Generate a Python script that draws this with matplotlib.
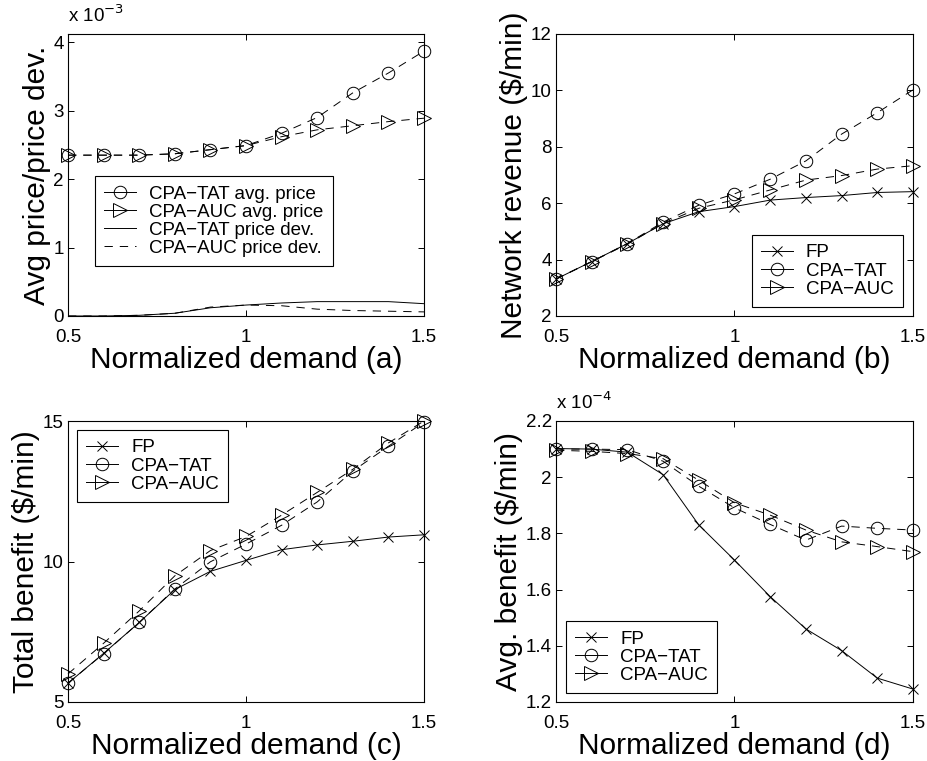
import matplotlib
matplotlib.use('Agg')
import matplotlib.pyplot as plt
from matplotlib.lines import Line2D
from matplotlib.ticker import FuncFormatter

plt.rcParams['font.family'] = ['Liberation Sans', 'DejaVu Sans']
plt.rcParams['lines.scale_dashes'] = False

# 横轴：归一化需求
demand = [0.5, 0.6, 0.7, 0.8, 0.9, 1.0, 1.1, 1.2, 1.3, 1.4, 1.5]

# (a) 平均价格 / 价格偏差
tat_price = [2.35e-3, 2.35e-3, 2.35e-3, 2.37e-3, 2.43e-3, 2.49e-3, 2.67e-3, 2.90e-3, 3.26e-3, 3.55e-3, 3.87e-3]
auc_price = [2.35e-3, 2.35e-3, 2.35e-3, 2.37e-3, 2.43e-3, 2.49e-3, 2.62e-3, 2.72e-3, 2.78e-3, 2.84e-3, 2.89e-3]
tat_dev = [0.0, 0.0, 0.01e-3, 0.04e-3, 0.12e-3, 0.16e-3, 0.19e-3, 0.21e-3, 0.21e-3, 0.21e-3, 0.18e-3]
auc_dev = [0.0, 0.0, 0.01e-3, 0.04e-3, 0.13e-3, 0.16e-3, 0.15e-3, 0.10e-3, 0.08e-3, 0.07e-3, 0.06e-3]

# (b) 网络收入
rev_fp = [3.31, 3.93, 4.57, 5.27, 5.70, 5.88, 6.11, 6.20, 6.27, 6.38, 6.41]
rev_tat = [3.31, 3.93, 4.57, 5.33, 5.93, 6.33, 6.85, 7.50, 8.45, 9.21, 10.02]
rev_auc = [3.31, 3.93, 4.55, 5.28, 5.82, 6.12, 6.47, 6.82, 6.98, 7.21, 7.33]

# (c) 总收益
tb_fp = [5.67, 6.73, 7.83, 9.00, 9.65, 10.04, 10.42, 10.59, 10.72, 10.87, 10.95]
tb_tat = [5.67, 6.72, 7.83, 9.02, 9.99, 10.62, 11.29, 12.12, 13.22, 14.10, 14.96]
tb_auc = [6.00, 7.09, 8.24, 9.49, 10.39, 10.89, 11.65, 12.46, 13.28, 14.22, 15.00]

# (d) 平均收益
ab_fp = [2.102e-4, 2.100e-4, 2.089e-4, 2.009e-4, 1.830e-4, 1.705e-4, 1.575e-4, 1.460e-4, 1.383e-4, 1.285e-4, 1.246e-4]
ab_tat = [2.100e-4, 2.100e-4, 2.098e-4, 2.057e-4, 1.968e-4, 1.891e-4, 1.832e-4, 1.776e-4, 1.826e-4, 1.818e-4, 1.812e-4]
ab_auc = [2.096e-4, 2.092e-4, 2.084e-4, 2.066e-4, 1.989e-4, 1.909e-4, 1.865e-4, 1.812e-4, 1.770e-4, 1.753e-4, 1.735e-4]

W, H = 928, 761
fs_tick = 13.5
fs_label = 21.5
lw = 0.7
dash = (0, (6, 5))
mk = dict(color='black', lw=lw, mfc='none', mec='black', mew=0.7, clip_on=False)
styles = {'FP': ('x', 7), 'TAT': ('o', 9), 'AUC': ('>', 10)}


def make_ax(left, top, right, bottom):
    ax = plt.gcf().add_axes([left / W, 1 - bottom / H, (right - left) / W, (bottom - top) / H])
    ax.tick_params(direction='in', top=True, right=True, length=4, width=0.7, labelsize=fs_tick)
    ax.tick_params(axis='x', pad=9)
    ax.tick_params(axis='y', pad=3)
    for s in ax.spines.values():
        s.set_linewidth(0.8)
    ax.set_xlim(0.5, 1.5)
    ax.set_xticks([0.5, 1, 1.5])
    ax.xaxis.set_major_formatter(FuncFormatter(lambda v, p: '%g' % v))
    return ax


def proxy(key=None, ls='-'):
    # 图例里带标记的线画成实线
    if key is None:
        return Line2D([], [], color='black', lw=lw, ls=ls)
    m, s = styles[key]
    return Line2D([], [], color='black', lw=lw, ls='-', marker=m, ms=s, mfc='none', mec='black', mew=0.7)


def legend(ax, handles, labels, **kw):
    lg = ax.legend(handles, labels, fontsize=fs_tick, fancybox=False, framealpha=1, edgecolor='black',
                   handlelength=1.7, handletextpad=0.7, labelspacing=0.05,
                   borderpad=0.5, borderaxespad=0, **kw)
    lg.get_frame().set_linewidth(0.8)
    return lg


fig = plt.figure(figsize=(W / 100, H / 100), dpi=100)
three = ['FP', 'CPA\u2212TAT', 'CPA\u2212AUC']

# (a)
ax = make_ax(68, 34, 424, 316)
ax.plot(demand, tat_price, marker='o', ms=9, ls=dash, **mk)
ax.plot(demand, auc_price, marker='>', ms=10, ls=dash, **mk)
ax.plot(demand, tat_dev, color='black', lw=lw, ls='-')
ax.plot(demand, auc_dev, color='black', lw=lw, ls=dash)
ax.set_ylim(0, 4.12e-3)
ax.set_yticks([0, 1e-3, 2e-3, 3e-3, 4e-3])
ax.yaxis.set_major_formatter(FuncFormatter(lambda v, p: '%g' % round(v / 1e-3, 6)))
ax.text(0, 1.03, 'x 10$^{-3}$', transform=ax.transAxes, fontsize=fs_tick, ha='left', va='bottom')
ax.set_ylabel('Avg price/price dev.', fontsize=fs_label, labelpad=2)
ax.set_xlabel('Normalized demand (a)', fontsize=fs_label, labelpad=0)
legend(ax, [proxy('TAT'), proxy('AUC'), proxy(), proxy(ls=dash)],
       ['CPA\u2212TAT avg. price', 'CPA\u2212AUC avg. price', 'CPA\u2212TAT price dev.', 'CPA\u2212AUC price dev.'],
       loc='lower left', bbox_to_anchor=(0.076, 0.177))

# (b)
ax = make_ax(556, 34, 913, 316)
ax.plot(demand, rev_fp, marker='x', ms=7, ls='-', **mk)
ax.plot(demand, rev_tat, marker='o', ms=9, ls=dash, **mk)
ax.plot(demand, rev_auc, marker='>', ms=10, ls=dash, **mk)
ax.set_ylim(2, 12)
ax.set_yticks([2, 4, 6, 8, 10, 12])
ax.set_ylabel('Network revenue (\\$/min)', fontsize=fs_label, labelpad=2)
ax.set_xlabel('Normalized demand (b)', fontsize=fs_label, labelpad=0)
legend(ax, [proxy('FP'), proxy('TAT'), proxy('AUC')], three,
       loc='lower right', bbox_to_anchor=(0.972, 0.032))

# (c)
ax = make_ax(68, 421, 424, 702)
ax.plot(demand, tb_fp, marker='x', ms=7, ls='-', **mk)
ax.plot(demand, tb_tat, marker='o', ms=9, ls=dash, **mk)
ax.plot(demand, tb_auc, marker='>', ms=10, ls=dash, **mk)
ax.set_ylim(5, 15)
ax.set_yticks([5, 10, 15])
ax.set_ylabel('Total benefit (\\$/min)', fontsize=fs_label, labelpad=2)
ax.set_xlabel('Normalized demand (c)', fontsize=fs_label, labelpad=0)
legend(ax, [proxy('FP'), proxy('TAT'), proxy('AUC')], three,
       loc='upper left', bbox_to_anchor=(0.025, 0.968))

# (d)
ax = make_ax(556, 421, 913, 702)
ax.plot(demand, ab_fp, marker='x', ms=7, ls='-', **mk)
ax.plot(demand, ab_tat, marker='o', ms=9, ls=dash, **mk)
ax.plot(demand, ab_auc, marker='>', ms=10, ls=dash, **mk)
ax.set_ylim(1.2e-4, 2.2e-4)
ax.set_yticks([1.2e-4, 1.4e-4, 1.6e-4, 1.8e-4, 2.0e-4, 2.2e-4])
ax.yaxis.set_major_formatter(FuncFormatter(lambda v, p: '%g' % round(v / 1e-4, 6)))
ax.text(0, 1.03, 'x 10$^{-4}$', transform=ax.transAxes, fontsize=fs_tick, ha='left', va='bottom')
ax.set_ylabel('Avg. benefit (\\$/min)', fontsize=fs_label, labelpad=2)
ax.set_xlabel('Normalized demand (d)', fontsize=fs_label, labelpad=0)
legend(ax, [proxy('FP'), proxy('TAT'), proxy('AUC')], three,
       loc='lower left', bbox_to_anchor=(0.028, 0.032))

fig.savefig('out.png', dpi=100)
